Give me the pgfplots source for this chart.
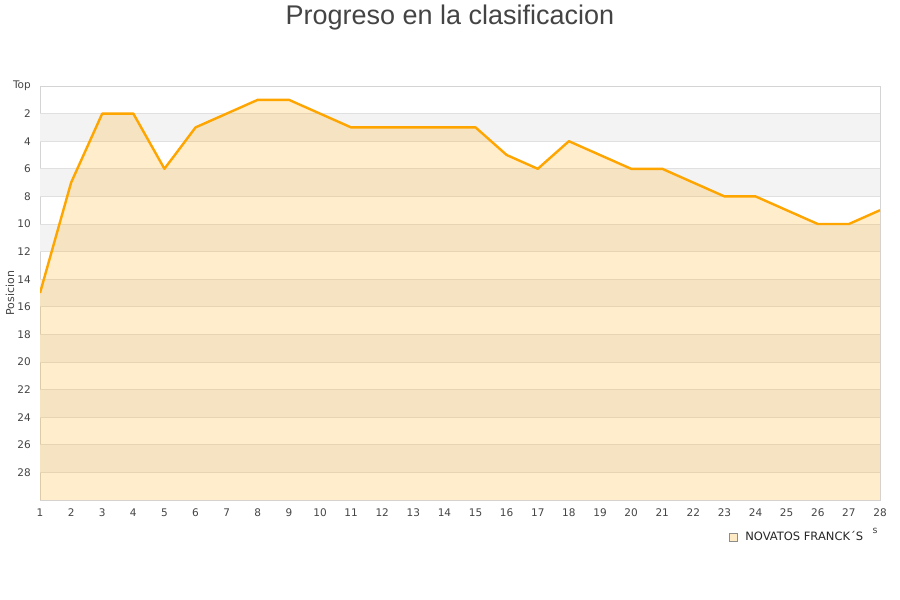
\documentclass[border=0pt]{standalone}
\usepackage{fontspec}
\setmainfont{DejaVu Sans}
\newfontfamily\titlefont{Liberation Sans}
\usepackage{pgfplots}
\pgfplotsset{compat=1.18}

\definecolor{linecol}{RGB}{255,165,0}
\definecolor{bandgrey}{RGB}{243,243,243}
\definecolor{gridgrey}{RGB}{224,224,224}
\definecolor{framegrey}{RGB}{212,212,212}
\definecolor{txt}{RGB}{68,68,68}
\definecolor{legfill}{RGB}{255,234,198}

\begin{document}
\begin{tikzpicture}
\path[use as bounding box] (0,0) rectangle (900bp,600bp);

\node[font=\titlefont\fontsize{27bp}{30bp}\selectfont, text=txt, anchor=base]
  at (450bp,575bp) {Progreso en la clasificacion};

\begin{axis}[
    at={(40bp,100bp)}, anchor=south west,
    scale only axis, width=840bp, height=414bp,
    xmin=1, xmax=28, ymin=0, ymax=30,
    y dir=reverse,
    xtick={1,...,28},
    ytick={0,2,4,6,8,10,12,14,16,18,20,22,24,26,28},
    yticklabels={Top,2,4,6,8,10,12,14,16,18,20,22,24,26,28},
    major tick length=0pt,
    axis line style={framegrey},
    /pgf/number format/assume math mode=true,
    tick label style={font=\fontsize{10.5bp}{12bp}\selectfont, text=txt},
    xticklabel style={inner sep=0pt, anchor=north, yshift=-9bp},
    yticklabel style={inner sep=0pt, anchor=east, xshift=-9bp},
    ylabel={Posicion},
    every axis y label/.style={at={(axis description cs:-0.0357,0.5)},
      rotate=90, anchor=center, font=\fontsize{11bp}{13bp}\selectfont, text=txt},
    legend style={at={(0.82,-0.089)}, anchor=west, draw=none, fill=none,
      inner sep=0pt, font=\fontsize{11.5bp}{13bp}\selectfont, text=black!85},
    legend cell align=left,
    legend image code/.code={
      \draw[black!45, fill=legfill, fill opacity=1, draw opacity=1, line width=0.6bp]
        (0bp,-4bp) rectangle (8bp,4bp);
      \path (14bp,0bp);},
]

% alternating bands
\pgfplotsinvokeforeach{2,6,10,14,18,22,26}{
  \fill[bandgrey] (axis cs:1,#1) rectangle (axis cs:28,{#1+2});
}
% grid lines
\pgfplotsinvokeforeach{2,4,6,8,10,12,14,16,18,20,22,24,26,28}{
  \draw[gridgrey, line width=0.8bp] (axis cs:1,#1) -- (axis cs:28,#1);
}

% area under the position line
\addplot[draw=none, fill=linecol, fill opacity=0.2] coordinates {
  (1,15) (2,7) (3,2) (4,2) (5,6) (6,3) (7,2) (8,1) (9,1) (10,2)
  (11,3) (12,3) (13,3) (14,3) (15,3) (16,5) (17,6) (18,4) (19,5) (20,6)
  (21,6) (22,7) (23,8) (24,8) (25,9) (26,10) (27,10) (28,9)
  (28,30) (1,30)
};
\addlegendentry{NOVATOS FRANCK´S}

\addplot[linecol, line width=2.4bp, line join=round, forget plot] coordinates {
  (1,15) (2,7) (3,2) (4,2) (5,6) (6,3) (7,2) (8,1) (9,1) (10,2)
  (11,3) (12,3) (13,3) (14,3) (15,3) (16,5) (17,6) (18,4) (19,5) (20,6)
  (21,6) (22,7) (23,8) (24,8) (25,9) (26,10) (27,10) (28,9)
};
\end{axis}

\node[font=\fontsize{9.5bp}{10bp}\selectfont, text=txt, anchor=base] at (875bp,66bp) {s};
\end{tikzpicture}
\end{document}
